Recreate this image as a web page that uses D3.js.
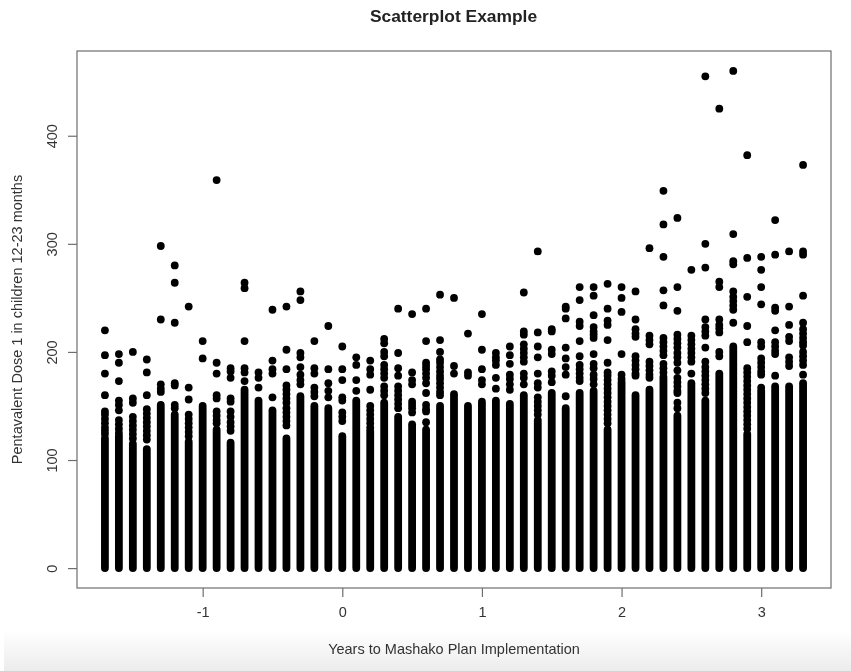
<!DOCTYPE html>
<html>
<head>
<meta charset="utf-8">
<script src="https://cdn.jsdelivr.net/npm/d3@7/dist/d3.min.js"></script>
<style>
  html, body { margin: 0; padding: 0; background: #fff; }
  svg { display: block; font-family: "Liberation Sans", sans-serif; filter: blur(0.4px); }
</style>
</head>
<body>
<svg id="chart"></svg>
<script>
const years = [
  -1.7, -1.6, -1.5, -1.4, -1.3, -1.2, -1.1, -1.0, -0.9, -0.8, -0.7, -0.6, -0.5,
  -0.4, -0.3, -0.2, -0.1, 0.0, 0.1, 0.2, 0.3, 0.4, 0.5, 0.6, 0.7, 0.8, 0.9, 1.0,
  1.1, 1.2, 1.3, 1.4, 1.5, 1.6, 1.7, 1.8, 1.9, 2.0, 2.1, 2.2, 2.3, 2.4, 2.5, 2.6,
  2.7, 2.8, 2.9, 3.0, 3.1, 3.2, 3.3
];

// every count from 0 up to here overlaps into a solid column
const solidTop = [
  120, 122, 115, 110, 151, 142, 117, 150, 128, 116, 165, 155, 146,
  120, 159, 150, 148, 122, 155, 127, 153, 140, 133, 128, 150, 161, 150, 154,
  155, 152, 160, 137, 162, 148, 162, 164, 128, 172, 160, 165, 175, 141, 171, 155,
  180, 205, 124, 164, 168, 168, 171
];

// separate points above the solid part, one list per year
const upperPoints = [
  [220, 197, 180, 160, 145, 142, 138, 134, 130, 127, 124],
  [198, 190, 173, 155, 151, 146, 137, 133, 129, 125],
  [200, 157, 153, 140, 136, 132, 128, 124, 120],
  [193, 181, 160, 147, 143, 139, 135, 131, 127, 123, 119],
  [298, 230, 170, 166, 163],
  [280, 264, 227, 171, 169, 151, 148],
  [242, 167, 156, 142, 138, 134, 130, 126, 122],
  [210, 194],
  [359, 190, 180, 160, 157, 145, 141, 137, 134],
  [185, 182, 176, 157, 154, 145, 140, 135, 131, 127],
  [264, 259, 210, 185, 181, 173],
  [181, 176, 167],
  [239, 192, 184, 180, 158],
  [242, 202, 184, 169, 165, 161, 157, 153, 148, 144, 140, 136, 132],
  [256, 248, 199, 195, 186, 179, 174, 170],
  [210, 185, 180, 167, 163, 159],
  [224, 184, 171, 164, 158],
  [205, 184, 174, 158, 155, 144, 140, 136],
  [195, 188, 174, 164],
  [192, 184, 179, 165, 150, 146, 142, 138, 134, 130],
  [212, 208, 200, 196, 188, 184, 180, 176, 168, 164, 160],
  [240, 199, 185, 178, 168, 164, 160, 156, 152, 148],
  [235, 181, 174, 170, 154, 151, 148, 144],
  [240, 210, 190, 187, 184, 180, 176, 171, 162, 151, 147, 145, 135],
  [253, 211, 200, 193, 190, 186, 182, 178, 175, 171, 167, 163, 160],
  [250, 187, 180],
  [217, 181, 178],
  [235, 202, 184, 174, 170],
  [199, 195, 192, 188, 176, 166],
  [205, 197, 189, 179, 175, 170, 165],
  [255, 219, 216, 207, 203, 199, 195, 191, 180, 176, 170],
  [293, 218, 205, 195, 180, 171, 167, 158, 154, 150, 146, 142],
  [221, 219, 202, 198, 182, 178, 172],
  [242, 240, 231, 204, 194, 186, 179, 159],
  [260, 248, 228, 224, 210, 196, 188, 184, 180, 176, 173],
  [260, 252, 234, 223, 219, 216, 213, 198, 189, 185, 179, 175, 170],
  [263, 240, 229, 225, 211, 190, 181, 178, 174, 170, 166, 162, 158, 154, 150, 146, 142, 138, 134],
  [260, 250, 237, 198, 179, 175],
  [256, 230, 221, 217, 214, 196, 192, 188, 184, 180, 178],
  [296, 215, 211, 207, 191, 187, 183, 179, 176],
  [349, 318, 288, 257, 243, 213, 209, 205, 201, 197, 189, 185, 181, 177],
  [324, 260, 238, 216, 212, 208, 204, 199, 195, 190, 183, 176, 172, 168, 164, 162, 153, 148],
  [276, 215, 211, 207, 203, 199, 195, 191, 180],
  [455, 300, 278, 230, 223, 219, 215, 204, 191, 186, 182, 178, 174, 170, 166, 162],
  [425, 265, 260, 230, 225, 222, 218, 200, 196],
  [460, 309, 284, 281, 256, 251, 247, 243, 239, 227],
  [382, 287, 251, 224, 209, 185, 181, 177, 173, 169, 165, 161, 157, 153, 149, 145, 141, 137, 133, 129],
  [288, 276, 260, 244, 209, 205, 194, 190, 186, 182, 179, 167],
  [322, 290, 241, 238, 220, 209, 205, 201, 198, 178],
  [293, 242, 225, 214, 210, 195, 191, 187],
  [373, 293, 290, 252, 227, 221, 217, 213, 209, 206, 200, 196, 192, 188, 179]
];

const xTicks = [-1, 0, 1, 2, 3];
const yTicks = [0, 100, 200, 300, 400];

const width = 851;
const height = 671;
const margin = { top: 51, right: 20, bottom: 83, left: 77 };
const dotRadius = 3.9;
const frameColor = '#6e6e6e';
const textColor = '#333';

const svg = d3.select('#chart')
  .attr('width', width)
  .attr('height', height);

// soft grey band along the bottom edge of the picture
const fade = svg.append('defs').append('linearGradient')
  .attr('id', 'fade')
  .attr('x1', 0).attr('y1', 0).attr('x2', 0).attr('y2', 1);
fade.append('stop').attr('offset', '0%').attr('stop-color', '#fff');
fade.append('stop').attr('offset', '100%').attr('stop-color', '#ececec');

svg.append('rect')
  .attr('x', 4)
  .attr('y', 630)
  .attr('width', width - 4)
  .attr('height', height - 630)
  .attr('fill', 'url(#fade)');

const xScale = d3.scaleLinear()
  .domain([-1.9, 3.5])
  .range([margin.left, width - margin.right]);

const yScale = d3.scaleLinear()
  .domain([-18.4, 478.4])
  .range([height - margin.bottom, margin.top]);

svg.append('rect')
  .attr('x', margin.left)
  .attr('y', margin.top)
  .attr('width', width - margin.left - margin.right)
  .attr('height', height - margin.top - margin.bottom)
  .attr('fill', 'none')
  .attr('stroke', frameColor)
  .attr('stroke-width', 1.2);

svg.selectAll('.solid')
  .data(years)
  .enter()
  .append('line')
  .attr('class', 'solid')
  .attr('x1', (d) => xScale(d))
  .attr('x2', (d) => xScale(d))
  .attr('y1', yScale(0))
  .attr('y2', (d, i) => yScale(solidTop[i]))
  .attr('stroke', '#000')
  .attr('stroke-width', dotRadius * 2)
  .attr('stroke-linecap', 'round');

const upper = years.flatMap((year, i) => upperPoints[i].map((value) => ({ year, value })));

svg.selectAll('.dot')
  .data(upper)
  .enter()
  .append('circle')
  .attr('class', 'dot')
  .attr('cx', (d) => xScale(d.year))
  .attr('cy', (d) => yScale(d.value))
  .attr('r', dotRadius)
  .attr('fill', '#000');

const xAxis = d3.axisBottom(xScale)
  .tickValues(xTicks)
  .tickSize(9)
  .tickSizeOuter(0)
  .tickPadding(10)
  .tickFormat((d) => String(d));

const xAxisGroup = svg.append('g')
  .attr('transform', `translate(0, ${height - margin.bottom})`)
  .call(xAxis);

const yAxis = d3.axisLeft(yScale)
  .tickValues(yTicks)
  .tickSize(9)
  .tickSizeOuter(0)
  .tickFormat((d) => String(d));

const yAxisGroup = svg.append('g')
  .attr('transform', `translate(${margin.left}, 0)`)
  .call(yAxis);

[xAxisGroup, yAxisGroup].forEach((g) => {
  g.select('.domain').remove();
  g.selectAll('line').attr('stroke', frameColor).attr('stroke-width', 1.2);
  g.selectAll('text')
    .attr('fill', textColor)
    .style('font-size', '14.5px')
    .style('font-family', '"Liberation Sans", sans-serif');
});

yAxisGroup.selectAll('text')
  .attr('x', null)
  .attr('dy', null)
  .attr('text-anchor', 'middle')
  .attr('transform', 'translate(-20, 0) rotate(-90)');

svg.append('text')
  .attr('x', 453.5)
  .attr('y', 22)
  .attr('text-anchor', 'middle')
  .attr('fill', '#222')
  .style('font-size', '17.4px')
  .style('font-weight', 'bold')
  .text('Scatterplot Example');

svg.append('text')
  .attr('x', 454)
  .attr('y', 654)
  .attr('text-anchor', 'middle')
  .attr('fill', textColor)
  .style('font-size', '14.5px')
  .text('Years to Mashako Plan Implementation');

svg.append('text')
  .attr('transform', 'translate(22, 319.5) rotate(-90)')
  .attr('text-anchor', 'middle')
  .attr('fill', textColor)
  .style('font-size', '14.5px')
  .text('Pentavalent Dose 1 in children 12-23 months');
</script>
</body>
</html>
